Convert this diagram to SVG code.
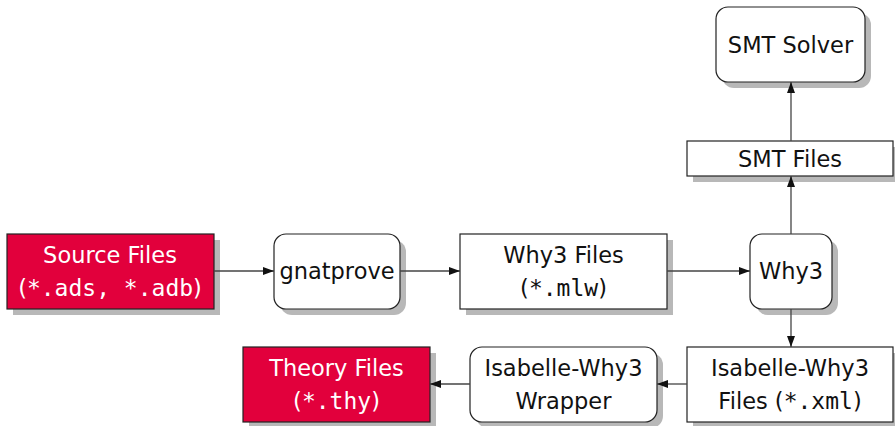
<svg xmlns="http://www.w3.org/2000/svg" width="895" height="426" viewBox="0 0 895 426">
<style>
.box{fill:#fff;stroke:#222;stroke-width:1.2}
.red{fill:#E2003C;stroke:#222;stroke-width:1.2}
.sh{fill:#b8b8b8}
.t{font-family:"DejaVu Sans","Liberation Sans",sans-serif;font-size:22.5px;fill:#111;text-anchor:middle}
.w{fill:#fff}
.m{font-family:"DejaVu Sans Mono","Liberation Mono",monospace;font-size:23px}
.c{stroke:#444;stroke-width:1.3;fill:none;marker-end:url(#a)}
</style>
<defs>
<marker id="a" viewBox="0 0 11 8" refX="11" refY="4" markerWidth="11" markerHeight="8" markerUnits="userSpaceOnUse" orient="auto">
<path d="M0,0 L11,4 L0,8 Z" fill="#111"/>
</marker>
</defs>
<g id="source">
<rect class="sh" x="13" y="240" width="207" height="75"/>
<rect class="red" x="7" y="234" width="207" height="75"/>
<text class="t w" x="110" y="263">Source Files</text>
<text class="t w" x="110" y="296">(<tspan class="m">*.ads, *.adb</tspan>)</text>
</g>
<g id="gnatprove">
<rect class="sh" x="280" y="240" width="126" height="75" rx="12"/>
<rect class="box" x="274" y="234" width="126" height="75" rx="12"/>
<text class="t" x="337" y="279">gnatprove</text>
</g>
<g id="why3files">
<rect class="sh" x="466" y="240" width="207" height="75"/>
<rect class="box" x="460" y="234" width="207" height="75"/>
<text class="t" x="563.5" y="263">Why3 Files</text>
<text class="t" x="563.5" y="296">(<tspan class="m">*.mlw</tspan>)</text>
</g>
<g id="why3">
<rect class="sh" x="756" y="240" width="82" height="75" rx="12"/>
<rect class="box" x="750" y="234" width="82" height="75" rx="12"/>
<text class="t" x="791" y="279">Why3</text>
</g>
<g id="smtfiles">
<rect class="sh" x="693" y="147" width="206" height="35"/>
<rect class="box" x="687" y="141" width="206" height="35"/>
<text class="t" x="790" y="167">SMT Files</text>
</g>
<g id="smtsolver">
<rect class="sh" x="722" y="13" width="149" height="75" rx="12"/>
<rect class="box" x="716" y="7" width="149" height="75" rx="12"/>
<text class="t" x="790.5" y="53">SMT Solver</text>
</g>
<g id="isafiles">
<rect class="sh" x="693" y="353" width="206" height="75"/>
<rect class="box" x="687" y="347" width="206" height="75"/>
<text class="t" x="790" y="376">Isabelle-Why3</text>
<text class="t" x="790" y="409">Files (<tspan class="m">*.xml</tspan>)</text>
</g>
<g id="wrapper">
<rect class="sh" x="476" y="353" width="187" height="75" rx="12"/>
<rect class="box" x="470" y="347" width="187" height="75" rx="12"/>
<text class="t" x="563.5" y="376">Isabelle-Why3</text>
<text class="t" x="563.5" y="409">Wrapper</text>
</g>
<g id="theory">
<rect class="sh" x="249" y="353" width="187" height="75"/>
<rect class="red" x="243" y="347" width="187" height="75"/>
<text class="t w" x="336.5" y="376">Theory Files</text>
<text class="t w" x="336.5" y="409">(<tspan class="m">*.thy</tspan>)</text>
</g>
<g id="connectors">
<line class="c" x1="214" y1="271" x2="274" y2="271"/>
<line class="c" x1="400" y1="271" x2="460" y2="271"/>
<line class="c" x1="667" y1="271" x2="750" y2="271"/>
<line class="c" x1="791" y1="234" x2="791" y2="176"/>
<line class="c" x1="791" y1="141" x2="791" y2="82"/>
<line class="c" x1="791" y1="309" x2="791" y2="347"/>
<line class="c" x1="687" y1="384" x2="657" y2="384"/>
<line class="c" x1="470" y1="384" x2="430" y2="384"/>
</g>
</svg>
